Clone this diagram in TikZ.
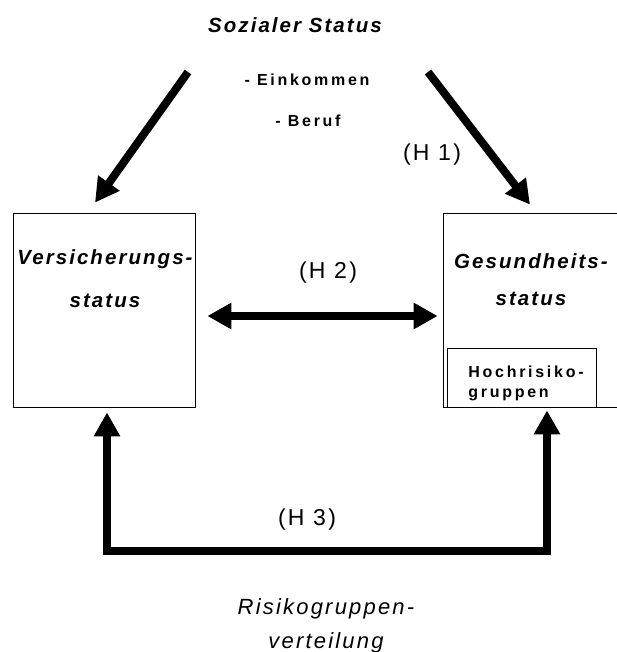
\documentclass[tikz,border=0pt]{standalone}
\usepackage{fontspec}
\setmainfont{Liberation Sans}
\usetikzlibrary{arrows.meta,positioning}
\newfontfamily\titelfont[LetterSpace=10]{Liberation Sans}
\newfontfamily\kleinfont[LetterSpace=17]{Liberation Sans}
\newfontfamily\hfont[LetterSpace=10]{Liberation Sans}

\begin{document}
\begin{tikzpicture}[x=1pt,y=-1pt,
    box/.style={draw, line width=0.8pt, inner sep=0pt},
    titel/.style={font=\titelfont\bfseries\itshape\fontsize{20.5}{43}\selectfont, inner sep=0pt},
    klein/.style={font=\kleinfont\bfseries\fontsize{16}{20}\selectfont, inner sep=0pt},
    hlab/.style={font=\hfont\fontsize{23}{26}\selectfont, inner sep=0pt},
    fatarrow/.style={line width=8pt, -{Triangle[length=24pt,width=25pt]}},
    dblarrow/.style={line width=8pt, {Triangle[length=24pt,width=25pt]}-{Triangle[length=24pt,width=25pt]}}]
  \useasboundingbox (0,0) rectangle (616,652);

  % Sozialer Status oben
  \node[titel] (soz) at (295,25) {Sozialer Status};
  \node[klein] (eink) at (307,80) {- Einkommen};
  \node[klein] (beruf) at (308,121) {- Beruf};

  % Kaesten
  \node[box, minimum width=182pt, minimum height=194pt] (vers) at (104,310) {};
  \node[box, minimum width=177pt, minimum height=194pt] (gesund) at (531.5,310) {};
  \node[box, minimum width=149pt, minimum height=59pt] (hoch) at (521.5,377.5) {};
  \node[titel, align=center] (verstxt) at (105,279) {Versicherungs-\\status};
  \node[titel, align=center, font=\titelfont\bfseries\itshape\fontsize{20.5}{37}\selectfont] (gesundtxt) at (531,280) {Gesundheits-\\status};
  \node[klein, align=left] (hochtxt) at (526,383) {Hochrisiko-\\gruppen};

  % Pfeile
  \coordinate (sl) at (188,72);
  \coordinate (sr) at (428,72);
  \draw[fatarrow] (sl) -- ([xshift=-9pt,yshift=10pt]vers.north);
  \draw[fatarrow] (sr) -- ([xshift=-1.5pt,yshift=8pt]gesund.north);
  \draw[dblarrow] ([xshift=12pt,yshift=-6pt]vers.east) -- ([xshift=-5pt,yshift=-6pt]gesund.west);

  \coordinate (ul) at (107,551);
  \coordinate (ur) at (547,551);
  \draw[dblarrow, line join=miter] ([xshift=3pt,yshift=-5pt]vers.south) -- (ul) -- (ur) -- ([xshift=15.5pt,yshift=-3pt]gesund.south);

  % Hypothesen
  \node[hlab] (h1) at (432,155) {(H 1)};
  \node[hlab] (h2) at (328,273) {(H 2)};
  \node[hlab] (h3) at (307,520) {(H 3)};

  % unten
  \node[titel, align=center, font=\titelfont\itshape\fontsize{22}{34}\selectfont] (risk) at (326,626) {Risikogruppen-\\verteilung};
\end{tikzpicture}
\end{document}
